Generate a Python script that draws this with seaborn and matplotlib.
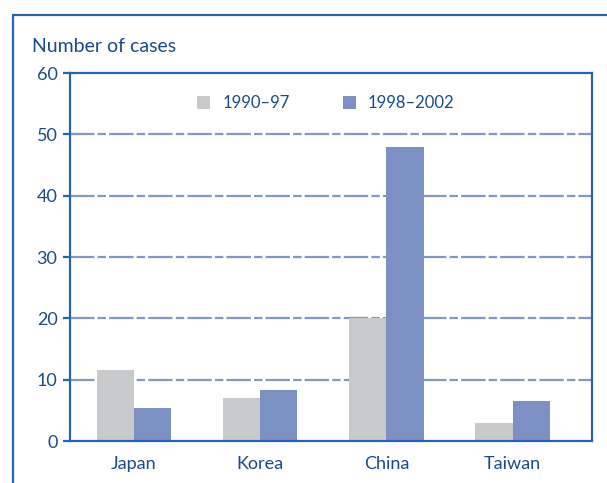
import matplotlib
matplotlib.use("Agg")
import matplotlib.pyplot as plt
import seaborn as sns
import pandas as pd
from matplotlib.patches import Patch
from matplotlib.lines import Line2D

countries = ["Japan", "Korea", "China", "Taiwan"]
series_names = ["1990–97", "1998–2002"]
cases_1990_97 = [11.5, 7.0, 20.0, 3.0]
cases_1998_2002 = [5.4, 8.3, 48.0, 6.6]
y_ticks = [0, 10, 20, 30, 40, 50, 60]

df = pd.DataFrame({
    "country": countries * 2,
    "period": [series_names[0]] * 4 + [series_names[1]] * 4,
    "cases": cases_1990_97 + cases_1998_2002,
})

sns.set_theme(style="white")
plt.rcParams["font.family"] = ["Lato", "DejaVu Sans"]

TEXT = "#1a4a8c"
SPINE = "#2565ad"
GRAY = "#c8c9cb"
BLUE = "#7b91c4"
GRID = "#8097cc"

fig = plt.figure(figsize=(6.07, 4.83), dpi=100)
ax = fig.add_axes([70 / 607, 1 - 441 / 483, (592 - 70) / 607, (441 - 73) / 483])

sns.barplot(data=df, x="country", y="cases", hue="period", order=countries,
            hue_order=series_names, palette=[GRAY, BLUE], width=0.59,
            saturation=1, ax=ax, legend=False, edgecolor="none", linewidth=0)

ax.set_ylim(0, 60)
ax.set_xlim(-0.507, 3.63)
ax.set_yticks(y_ticks)
ax.set_yticklabels([str(t) for t in y_ticks])
ax.set_xlabel("")
ax.set_ylabel("")

for t in y_ticks[1:-1]:
    ax.axhline(t, color=GRID, lw=1.6, dashes=(11, 1.4, 3.8, 1.4), zorder=0.5)

for s in ax.spines.values():
    s.set_visible(True)
    s.set_color(SPINE)
    s.set_linewidth(1.6)

ax.tick_params(axis="y", which="both", left=True, length=5, width=1.6,
               color=SPINE, labelcolor=TEXT, labelsize=13, pad=4)
ax.tick_params(axis="x", bottom=False, labelcolor=TEXT, labelsize=13, pad=5)

handles = [Patch(facecolor=GRAY, edgecolor="none"), Patch(facecolor=BLUE, edgecolor="none")]
leg = ax.legend(handles, series_names, loc="center", bbox_to_anchor=(0.49, 0.918),
                ncol=2, frameon=False, handlelength=0.8, handleheight=0.8,
                handletextpad=0.7, columnspacing=3.2, fontsize=12)
for txt in leg.get_texts():
    txt.set_color(TEXT)

fig.text(32 / 607, 1 - 47 / 483, "Number of cases", color=TEXT, fontsize=14,
         ha="left", va="center")

# outer frame: left and top lines
fig.add_artist(Line2D([13 / 607, 13 / 607], [0, 1 - 15 / 483], color=SPINE, lw=1.6,
                      transform=fig.transFigure))
fig.add_artist(Line2D([13 / 607, 1], [1 - 15 / 483, 1 - 15 / 483], color=SPINE, lw=1.6,
                      transform=fig.transFigure))

fig.savefig("out.png", dpi=100)
